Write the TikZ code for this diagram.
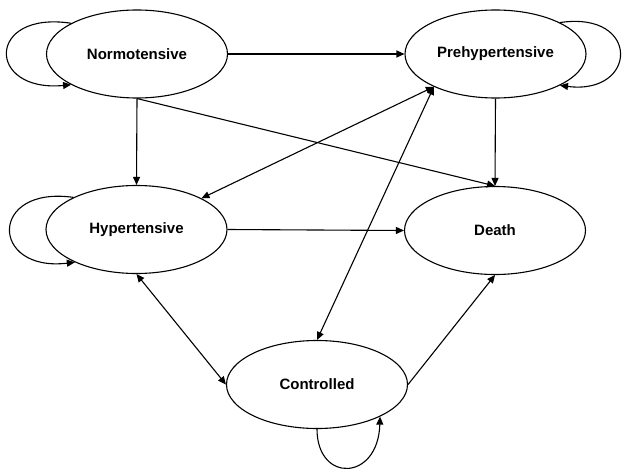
\documentclass[tikz,border=0pt]{standalone}
\usepackage{fontspec}
\setmainfont{Liberation Sans}
\usetikzlibrary{shapes.geometric,arrows.meta}

\begin{document}
\begin{tikzpicture}[x=1pt,y=-1pt,
  bp/.style={draw, ellipse, line width=1.1pt, minimum width=181pt, minimum height=88pt, inner sep=0pt, font=\fontsize{15}{18}\selectfont\bfseries},
  arr/.style={line width=1.1pt, -{Triangle[length=8pt,width=7pt]}},
  darr/.style={line width=1.1pt, {Triangle[length=8pt,width=7pt]}-{Triangle[length=8pt,width=7pt]}}]
\useasboundingbox (0,0) rectangle (623,468);
\node[bp] (normo) at (137,54) {Normotensive};
\node[bp] (prehyp) at (495.5,54) {Prehypertensive};
\node[bp] (hyper) at (136.5,229.5) {Hypertensive};
\node[bp] (death) at (495,230.5) {Death};
\node[bp] (ctrl) at (317,384.5) {Controlled};

% one-way transitions
\foreach \a/\b in {normo.east/prehyp.west, normo.south/hyper.north, normo.south/death.north,
  prehyp.south/death.north, hyper.east/death.west, ctrl.east/death.south}
	\draw [arr] (\a) -- (\b);

% two-way transitions
\draw [darr] (prehyp.208) -- (hyper);
\draw [darr] (prehyp.208) -- (ctrl.north);
\draw [darr] (hyper.south) -- (ctrl.west);

% staying in the same state
\draw [arr] (normo.155) .. controls +(-85,-13) and +(-85,8) .. (normo.205);
\draw [arr] (prehyp.26) .. controls +(81,-12) and +(78,10) .. (prehyp.334);
\draw [arr] (hyper.153) .. controls +(-85,-12) and +(-85,10) .. (hyper.208);
\draw [arr] (ctrl.south) .. controls +(0,54) and +(-2,65) .. (ctrl.333);
\end{tikzpicture}
\end{document}
